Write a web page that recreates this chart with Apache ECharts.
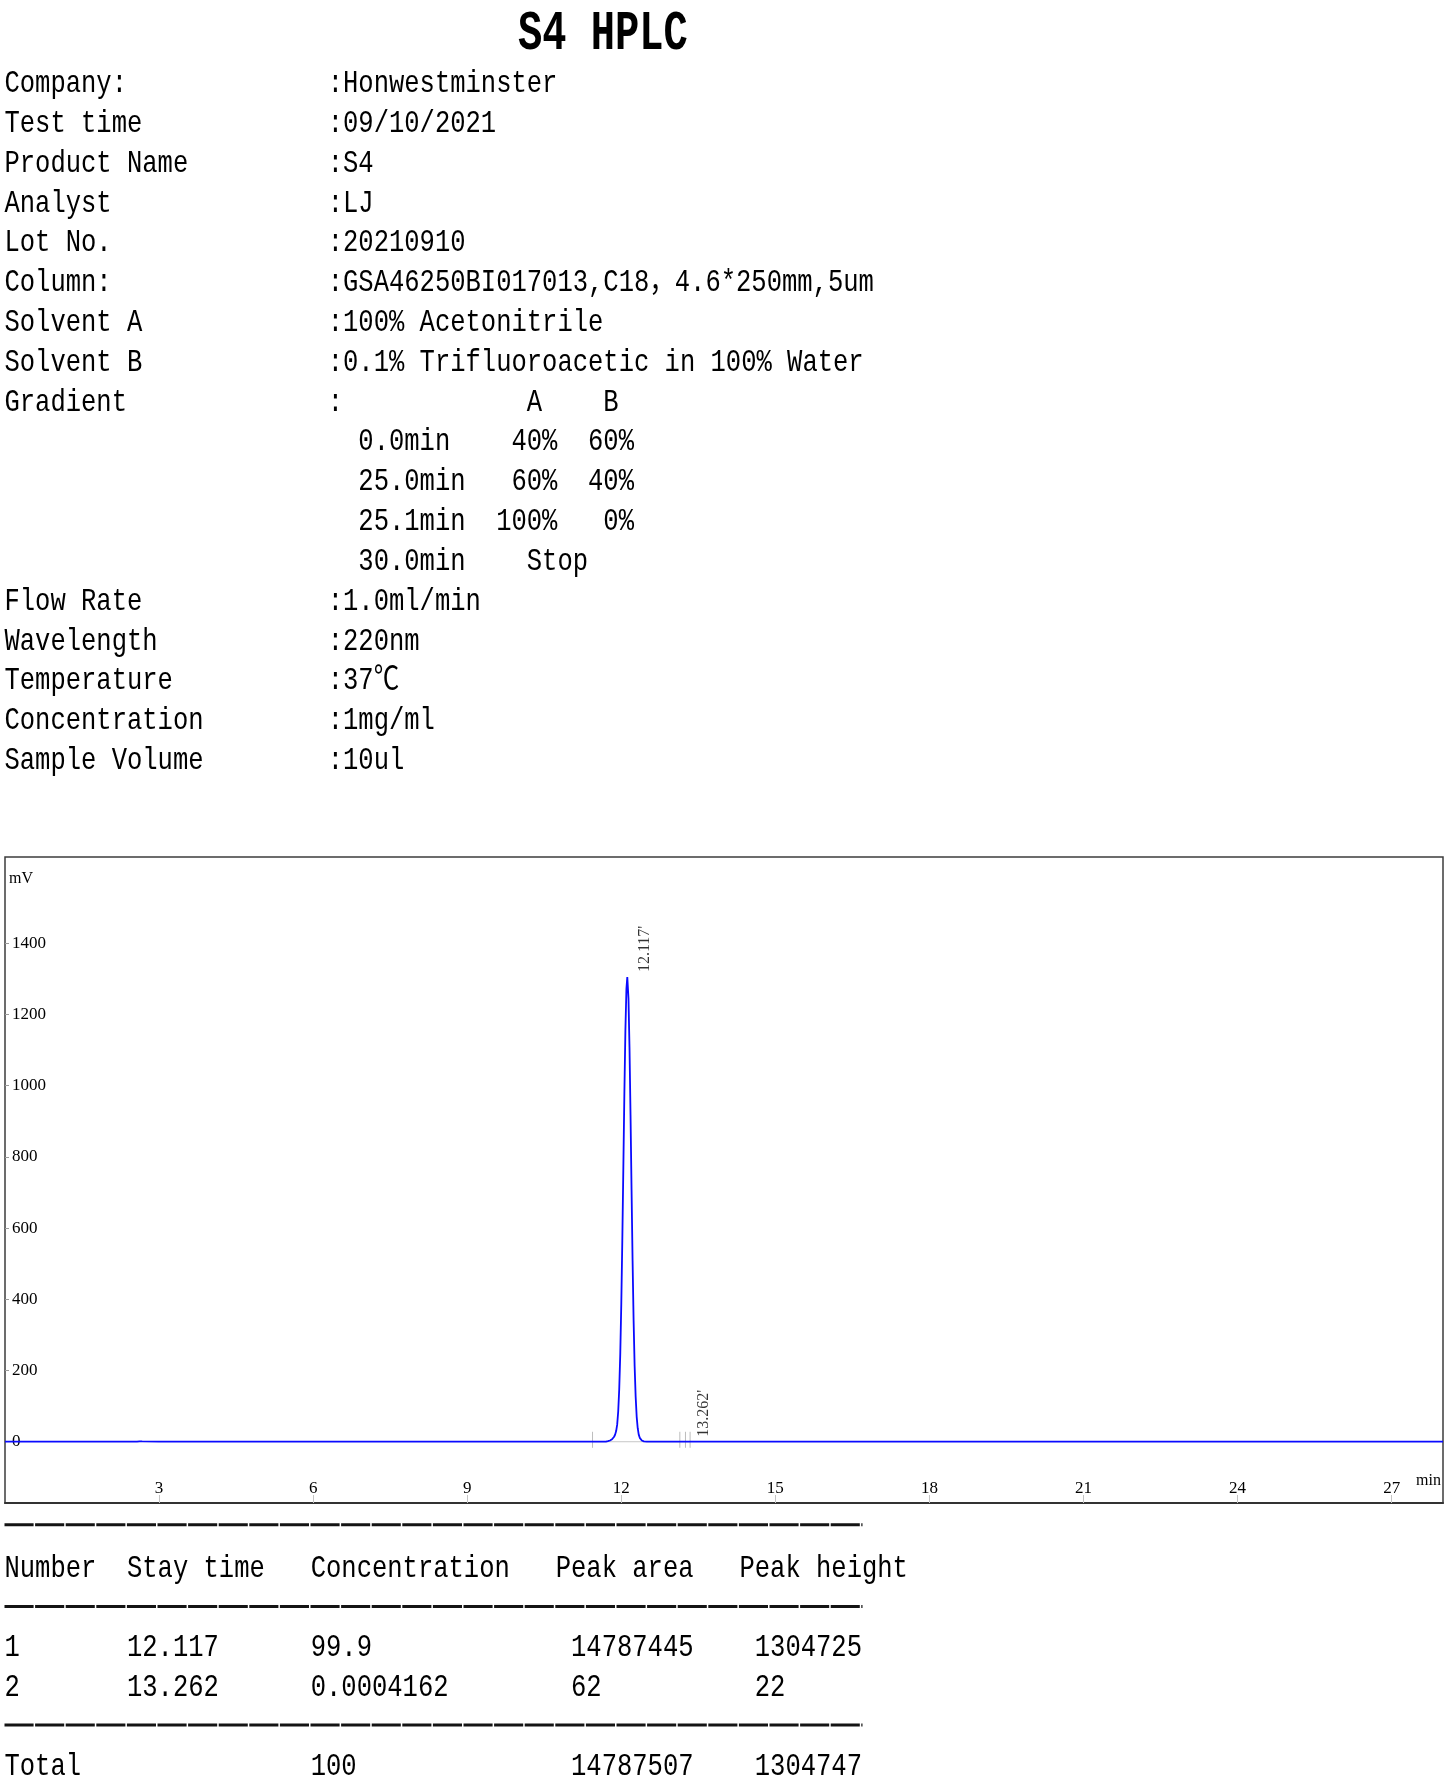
<!DOCTYPE html>
<html>
<head>
<meta charset="utf-8">
<title>S4 HPLC</title>
<script src="https://cdn.jsdelivr.net/npm/echarts@6/dist/echarts.min.js"></script>
<style>
html,body{margin:0;padding:0;background:#fff;overflow:hidden;}
#chart{width:1445px;height:1784px;}
</style>
</head>
<body>
<div id="chart"></div>
<script>
// ---------------- DATA ----------------
const reportTitle = 'S4 HPLC';
const infoLabels = ['Company:', 'Test time', 'Product Name', 'Analyst', 'Lot No.', 'Column:',
  'Solvent A', 'Solvent B', 'Gradient', 'Flow Rate', 'Wavelength', 'Temperature',
  'Concentration', 'Sample Volume'];
const infoValues = ['Honwestminster', '09/10/2021', 'S4', 'LJ', '20210910',
  'GSA46250BI017013,C18，4.6*250mm,5um', '100% Acetonitrile',
  '0.1% Trifluoroacetic in 100% Water', '', '1.0ml/min', '220nm', '37℃', '1mg/ml', '10ul'];
const gradientHeader = ['A', 'B'];
const gradientTimes = ['0.0min', '25.0min', '25.1min', '30.0min'];
const gradientA = ['40%', '60%', '100%', 'Stop'];
const gradientB = ['60%', '40%', '0%', ''];

// chromatogram (time in min, signal in mV)
const chromTime = [0, 0.5, 1, 1.5, 2, 2.5, 2.57, 2.6, 2.62, 2.645, 2.67, 2.7, 3, 4, 5, 6, 7, 8, 9, 10, 11, 11.5,
  11.70, 11.72, 11.74, 11.76, 11.78, 11.80, 11.82, 11.84, 11.86, 11.88, 11.90, 11.92, 11.94, 11.96, 11.98,
  12.00, 12.02, 12.04, 12.06, 12.08, 12.10, 12.117, 12.14, 12.16, 12.18, 12.20, 12.22, 12.24, 12.26, 12.28,
  12.30, 12.32, 12.34, 12.36, 12.38, 12.40, 12.42, 12.44, 12.46, 12.50, 12.8, 13.2, 13.262, 13.4, 14, 15,
  16, 17, 18, 19, 20, 21, 22, 23, 24, 25, 26, 27, 28];
const chromSignal = [0.3, 0.2, 0.3, 0.2, 0.3, 0.2, 0.4, 4.5, 1.2, 4.8, 1.0, 0.3, 0.2, 0.3, 0.2, 0.3, 0.2, 0.3, 0.2, 0.3, 0.2, 0.2,
  0.3, 1.0, 1.5, 2.5, 3.5, 5, 7, 10, 14, 20, 30, 48, 85, 148, 246,
  386, 565, 769, 977, 1155, 1272, 1304.7, 1245, 1107, 918, 707, 508, 340, 212, 126,
  70, 38, 20, 11, 6, 3.5, 2, 1, 0.5, 0.2, 0.2, 0.2, 0.3, 0.2, 0.2, 0.3,
  0.2, 0.3, 0.2, 0.2, 0.3, 0.2, 0.2, 0.3, 0.2, 0.2, 0.3, 0.2, 0.2];

const peakTimes = [12.117, 13.262];
const peakLabelHeights = [1304.725, 0.022];
const eventTimes = [11.44, 13.14, 13.25, 13.34];
const eventMarkRange = [-17, 28];
const integrationBaseline = [11.44, 13.34];

const xTickValues = [3, 6, 9, 12, 15, 18, 21, 24, 27];
const yTickValues = [0, 200, 400, 600, 800, 1000, 1200, 1400];
const xRange = [0, 28];
const yRange = [-172, 1642];
const xAxisUnit = 'min';
const yAxisUnit = 'mV';

const tableHeader = ['Number', 'Stay time', 'Concentration', 'Peak area', 'Peak height'];
const peakNumbers = ['1', '2'];
const stayTimes = ['12.117', '13.262'];
const concentrations = ['99.9', '0.0004162'];
const peakAreas = ['14787445', '62'];
const peakHeights = ['1304725', '22'];
const totalRow = ['Total', '', '100', '14787507', '1304747'];

// ---------------- LAYOUT ----------------
const MONO = '"Liberation Mono","Noto Sans CJK SC","DejaVu Sans Mono",monospace';
const SERIF = '"Liberation Serif","Times New Roman",serif';
const CH = 15.31;              // monospace advance
const BODY_SIZE = 32;
const BODY_SX = CH / (BODY_SIZE * 0.6);
const LABEL_X = 4.5, VALUE_X = 327.7;
const ROW_Y0 = 83.6, ROW_DY = 39.82;

function monoText(str, x, y, size, sx, weight) {
  return {
    type: 'text', x: x, y: y, scaleX: sx, silent: true,
    style: { text: str, fontFamily: MONO, fontSize: size, fontWeight: weight || 'normal',
      fill: '#000', align: 'left', verticalAlign: 'middle' }
  };
}
function cols(cells, starts) {
  let s = '';
  cells.forEach((c, i) => { s = s.padEnd(starts[i]) + c; });
  return s;
}

const graphics = [];
graphics.push(monoText(reportTitle, 518, 35.5, 55, 0.735, 'bold'));

// info block rows
const rows = [];
infoLabels.forEach((lab, i) => {
  if (lab === 'Gradient') {
    rows.push([lab, ':' + cols(gradientHeader, [12, 17])]);
    gradientTimes.forEach((t, j) => {
      let s = '  ' + t;
      const a = gradientA[j], b = gradientB[j];
      if (b === '') { s = s.padEnd(13) + a; }
      else { s = s.padEnd(15 - a.length) + a; s = s.padEnd(20 - b.length) + b; }
      rows.push(['', s]);
    });
  } else {
    rows.push([lab, ':' + infoValues[i]]);
  }
});
rows.forEach((r, k) => {
  const y = ROW_Y0 + ROW_DY * k;
  if (r[0]) graphics.push(monoText(r[0], LABEL_X, y, BODY_SIZE, BODY_SX));
  graphics.push(monoText(r[1], VALUE_X, y, BODY_SIZE, BODY_SX));
});

// result table
const headStarts = [0, 8, 20, 36, 48];
const rowStarts = [0, 8, 20, 37, 49];
const tableLines = [
  [cols(tableHeader, headStarts), 1569.0],
  [cols([peakNumbers[0], stayTimes[0], concentrations[0], peakAreas[0], peakHeights[0]], rowStarts), 1647.5],
  [cols([peakNumbers[1], stayTimes[1], concentrations[1], peakAreas[1], peakHeights[1]], rowStarts), 1687.4],
  [cols(totalRow, rowStarts), 1766.9]
];
tableLines.forEach(t => graphics.push(monoText(t[0], LABEL_X, t[1], BODY_SIZE, BODY_SX)));
[1524.7, 1606.6, 1724.9].forEach(y => {
  graphics.push({
    type: 'line', silent: true,
    shape: { x1: 4.5, y1: y, x2: 862.5, y2: y },
    style: { stroke: '#141414', lineWidth: 3, lineDash: [29.1, 1.5] }
  });
});

// x-axis unit, drawn just above the bottom frame at the right end
graphics.push({
  type: 'text', x: 1416, y: 1481, silent: true,
  style: { text: xAxisUnit, fontFamily: SERIF, fontSize: 16, fill: '#000', align: 'left', verticalAlign: 'middle' }
});

// ---------------- CHART ----------------
const chart = echarts.init(document.getElementById('chart'), null, { renderer: 'canvas', width: 1445, height: 1784 });

const eventData = [];
eventTimes.forEach(t => { eventData.push([t, eventMarkRange[0]], [t, eventMarkRange[1]], [t, '-']); });

const option = {
  animation: false,
  backgroundColor: '#fff',
  grid: { left: 5, top: 857, width: 1438, height: 646, show: true,
    borderColor: '#3c3c3c', borderWidth: 1.5, backgroundColor: 'transparent' },
  xAxis: {
    type: 'value', min: xRange[0], max: xRange[1], position: 'bottom',
    axisLine: { show: true, onZero: false, lineStyle: { color: '#333', width: 2 } },
    splitLine: { show: false },
    axisTick: { show: true, inside: true, length: 8, customValues: xTickValues,
      lineStyle: { color: '#c4c4c4', width: 1 } },
    axisLabel: { show: true, inside: true, margin: 6, customValues: xTickValues,
      fontFamily: SERIF, fontSize: 17, color: '#000' }
  },
  yAxis: {
    type: 'value', min: yRange[0], max: yRange[1],
    name: yAxisUnit, nameLocation: 'end', nameGap: -22,
    nameTextStyle: { fontFamily: SERIF, fontSize: 16, color: '#000', align: 'left',
      verticalAlign: 'middle', padding: [0, 0, 0, 4] },
    axisLine: { show: false, onZero: false },
    splitLine: { show: false },
    axisTick: { show: true, inside: true, length: 4, customValues: yTickValues,
      lineStyle: { color: '#9a9a9a', width: 1 } },
    axisLabel: { show: true, inside: true, margin: 7, customValues: yTickValues,
      formatter: v => String(v),
      fontFamily: SERIF, fontSize: 17, color: '#000' }
  },
  series: [
    {
      type: 'line', silent: true, symbol: 'none', z: 1,
      data: integrationBaseline.map(t => [t, 0]),
      lineStyle: { color: '#c6c6c6', width: 1 }
    },
    {
      type: 'line', silent: true, symbol: 'none', z: 3, connectNulls: false,
      data: eventData,
      lineStyle: { color: '#bdbdbd', width: 1 }
    },
    {
      type: 'line', silent: true, symbol: 'none', z: 4,
      data: chromTime.map((t, i) => [t, chromSignal[i]]),
      lineStyle: { color: '#0a0aff', width: 1.8 }
    },
    {
      type: 'scatter', silent: true, z: 5, symbolSize: 0.1,
      itemStyle: { color: 'rgba(0,0,0,0)' },
      data: peakTimes.map((t, i) => [t, peakLabelHeights[i]]),
      label: {
        show: true, position: 'inside', rotate: 90, align: 'left', verticalAlign: 'middle',
        offset: [5, 18], fontFamily: SERIF, fontSize: 16, color: '#000',
        formatter: p => p.value[0].toFixed(3) + "'"
      }
    }
  ],
  graphic: graphics
};
chart.setOption(option);
</script>
</body>
</html>
